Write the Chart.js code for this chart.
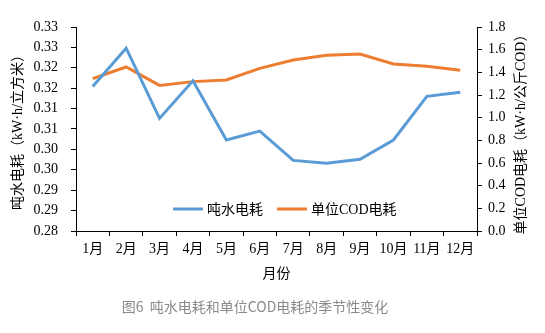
<!DOCTYPE html>
<html>
<head>
<meta charset="utf-8">
<script src="https://cdn.jsdelivr.net/npm/chart.js@4"></script>
<style>
  body { margin: 0; background: #fff; }
  #wrap { position: relative; width: 545px; height: 333px; }
  #caption {
    position: absolute; left: 0; top: 296px; width: 510px; text-align: center;
    font: 14px "Noto Sans CJK SC", sans-serif; color: #8a8a8a; white-space: pre;
  }
</style>
</head>
<body>
<div id="wrap">
  <canvas id="chart" width="545" height="333"></canvas>
  <div id="caption">图6  吨水电耗和单位COD电耗的季节性变化</div>
</div>
<script>
var months = ['1月', '2月', '3月', '4月', '5月', '6月', '7月', '8月', '9月', '10月', '11月', '12月'];
var waterPower = [0.3154, 0.3248, 0.3076, 0.3168, 0.3023, 0.3045, 0.2973, 0.2966, 0.2976, 0.3023, 0.3130, 0.3140];
var codPower = [1.344, 1.447, 1.285, 1.318, 1.332, 1.435, 1.509, 1.550, 1.562, 1.474, 1.453, 1.418];
var leftTickLabels = ['0.28', '0.29', '0.29', '0.30', '0.30', '0.31', '0.31', '0.32', '0.32', '0.33', '0.33'];
var rightTickLabels = ['0.0', '0.2', '0.4', '0.6', '0.8', '1.0', '1.2', '1.4', '1.6', '1.8'];

var fontFamily = '"Liberation Serif", "Noto Sans CJK SC", serif';

// legend drawn inside the plot + right axis title reading bottom-to-top
var extras = {
  id: 'extras',
  afterDraw: function(chart) {
    var ctx = chart.ctx;
    var area = chart.chartArea;
    ctx.save();
    ctx.font = '14px ' + fontFamily;
    ctx.textBaseline = 'middle';
    ctx.textAlign = 'left';
    var x = area.left + 97;
    var y = area.bottom - 22;
    chart.data.datasets.forEach(function(ds) {
      ctx.strokeStyle = ds.borderColor;
      ctx.lineWidth = 3;
      ctx.beginPath();
      ctx.moveTo(x, y);
      ctx.lineTo(x + 30, y);
      ctx.stroke();
      ctx.fillStyle = '#000';
      ctx.fillText(ds.label, x + 34, y + 1);
      x += 34 + ctx.measureText(ds.label).width + 14;
    });

    var y2 = chart.scales.y2;
    ctx.translate(y2.right - 24, (area.top + area.bottom) / 2 + 2);
    ctx.rotate(-Math.PI / 2);
    ctx.textAlign = 'center';
    ctx.fillText('单位COD电耗（kW·h/公斤COD）', 0, 0);
    ctx.restore();
  }
};

new Chart('chart', {
  type: 'line',
  data: {
    labels: months,
    datasets: [
      {
        label: '吨水电耗',
        data: waterPower,
        yAxisID: 'y',
        borderColor: '#5B9BD5',
        borderWidth: 3,
        pointRadius: 0,
        tension: 0
      },
      {
        label: '单位COD电耗',
        data: codPower,
        yAxisID: 'y2',
        borderColor: '#ED7D31',
        borderWidth: 3,
        pointRadius: 0,
        tension: 0
      }
    ]
  },
  options: {
    responsive: false,
    animation: false,
    layout: { padding: { left: 0, right: 0, top: 27, bottom: 50 } },
    plugins: {
      legend: { display: false },
      tooltip: { enabled: false }
    },
    scales: {
      x: {
        offset: true,
        grid: { drawOnChartArea: false, offset: true, tickLength: 5, color: '#000' },
        border: { color: '#000' },
        ticks: { color: '#000', font: { size: 14, family: fontFamily }, padding: 5, maxRotation: 0, autoSkip: false },
        title: { display: true, text: '月份', color: '#000', font: { size: 14, family: fontFamily }, padding: { top: 4, bottom: 0 } },
        afterFit: function(s) { s.height = 52; }
      },
      y: {
        position: 'left',
        min: 0.28,
        max: 0.33,
        grid: { drawOnChartArea: false, tickLength: 5, color: '#000' },
        border: { color: '#000' },
        ticks: {
          stepSize: 0.005,
          color: '#000',
          font: { size: 14, family: fontFamily },
          padding: 13,
          callback: function(v, i) { return leftTickLabels[i]; }
        },
        title: { display: true, text: '吨水电耗（kW·h/立方米）', color: '#000', font: { size: 14, family: fontFamily }, padding: { top: 10, bottom: 0 } },
        afterFit: function(s) { s.width = 76; }
      },
      y2: {
        position: 'right',
        min: 0,
        max: 1.8,
        grid: { drawOnChartArea: false, tickLength: 5, color: '#000' },
        border: { color: '#000' },
        ticks: {
          stepSize: 0.2,
          color: '#000',
          font: { size: 14, family: fontFamily },
          padding: 6,
          callback: function(v, i) { return rightTickLabels[i]; }
        },
        afterFit: function(s) { s.width = 68; }
      }
    }
  },
  plugins: [extras]
});
</script>
</body>
</html>
